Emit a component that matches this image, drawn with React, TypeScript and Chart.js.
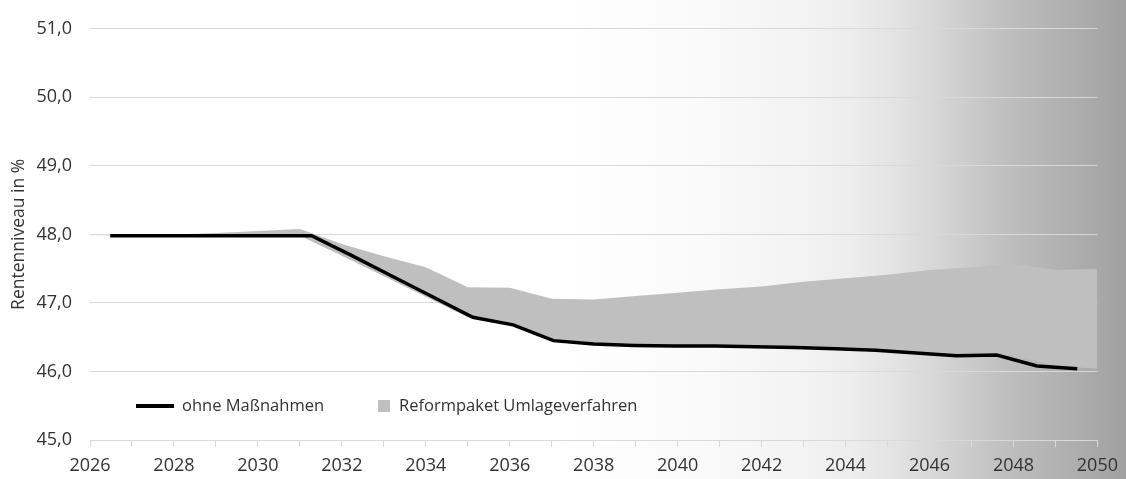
import React, { useEffect, useRef } from 'react';
import { Chart, registerables } from 'chart.js';

Chart.register(...registerables);

const years = [2026, 2027, 2028, 2029, 2030, 2031, 2032, 2033, 2034, 2035, 2036, 2037, 2038, 2039, 2040, 2041, 2042, 2043, 2044, 2045, 2046, 2047, 2048, 2049, 2050];
const ohneMassnahmen = [47.98, 47.98, 47.98, 47.98, 47.98, 47.98, 47.69, 47.39, 47.09, 46.79, 46.68, 46.45, 46.40, 46.38, 46.37, 46.37, 46.36, 46.35, 46.33, 46.31, 46.27, 46.23, 46.24, 46.08, 46.04];
const reformpaket = [47.98, 47.99, 48.0, 48.02, 48.05, 48.08, 47.86, 47.68, 47.52, 47.23, 47.22, 47.06, 47.05, 47.10, 47.15, 47.20, 47.24, 47.31, 47.36, 47.41, 47.48, 47.52, 47.57, 47.48, 47.50];
const yTicks = [45, 46, 47, 48, 49, 50, 51];

const LABEL_LINE = 'ohne Maßnahmen';
const LABEL_AREA = 'Reformpaket Umlageverfahren';
const AXIS_TITLE = 'Rentenniveau in %';

const FONT = "'Open Sans', 'Noto Sans', sans-serif";
const TEXT = '#333333';
const GRID = '#d9d9d9';
const AREA = '#bfbfbf';

const insideLegend = {
  id: 'insideLegend',
  afterDraw(chart: any) {
    const { ctx, chartArea } = chart;
    const y = chartArea.bottom - 34;
    let x = chartArea.left + 46;
    ctx.save();
    ctx.font = `16.5px ${FONT}`;
    ctx.textBaseline = 'middle';
    ctx.textAlign = 'left';
    ctx.strokeStyle = '#000000';
    ctx.lineWidth = 4;
    ctx.lineCap = 'butt';
    ctx.beginPath();
    ctx.moveTo(x, y);
    ctx.lineTo(x + 38, y);
    ctx.stroke();
    x += 46;
    ctx.fillStyle = TEXT;
    ctx.fillText(LABEL_LINE, x, y);
    x += ctx.measureText(LABEL_LINE).width + 54;
    ctx.fillStyle = AREA;
    ctx.fillRect(x, y - 6, 12, 12);
    x += 21;
    ctx.fillStyle = TEXT;
    ctx.fillText(LABEL_AREA, x, y);
    ctx.restore();
  },
};

export default function App() {
  const ref = useRef<HTMLCanvasElement | null>(null);

  useEffect(() => {
    if (!ref.current) return;
    const chart = new Chart(ref.current, {
      type: 'line',
      data: {
        labels: years.map(String),
        datasets: [
          {
            label: LABEL_LINE,
            data: ohneMassnahmen,
            xAxisID: 'xCat',
            borderColor: '#000000',
            borderWidth: 3.5,
            pointRadius: 0,
            fill: false,
            tension: 0,
          },
          {
            label: 'base',
            data: years.map((yr, i) => ({ x: yr, y: ohneMassnahmen[i] })),
            xAxisID: 'x',
            borderWidth: 0,
            borderColor: 'rgba(0,0,0,0)',
            pointRadius: 0,
            fill: false,
          },
          {
            label: LABEL_AREA,
            data: years.map((yr, i) => ({ x: yr, y: reformpaket[i] })),
            xAxisID: 'x',
            borderWidth: 0,
            borderColor: 'rgba(0,0,0,0)',
            backgroundColor: AREA,
            pointRadius: 0,
            fill: '-1',
          },
        ] as any,
      },
      options: {
        animation: false,
        responsive: false,
        maintainAspectRatio: false,
        layout: { padding: { top: 28, right: 28, left: 0, bottom: 0 } },
        plugins: {
          legend: { display: false },
          tooltip: { enabled: false },
          filler: { propagate: false },
        },
        scales: {
          x: {
            type: 'linear',
            position: 'bottom',
            min: years[0],
            max: years[years.length - 1],
            ticks: {
              stepSize: 1,
              autoSkip: false,
              maxRotation: 0,
              minRotation: 0,
              padding: 8,
              color: TEXT,
              font: { family: FONT, size: 18 },
              callback: (v: any) => (Number(v) % 2 === 0 ? String(v) : ''),
            },
            grid: { drawOnChartArea: false, drawTicks: true, tickLength: 7, color: GRID },
            border: { display: true, color: GRID },
            afterFit: (s: any) => {
              s.height = 39;
            },
          },
          xCat: {
            type: 'category',
            display: false,
            offset: true,
            position: 'bottom',
          },
          y: {
            min: yTicks[0],
            max: yTicks[yTicks.length - 1],
            afterBuildTicks: (s: any) => {
              s.ticks = yTicks.map((v) => ({ value: v }));
            },
            ticks: {
              padding: 18,
              color: TEXT,
              font: { family: FONT, size: 18 },
              callback: (v: any) => Number(v).toFixed(1).replace('.', ','),
            },
            grid: { color: GRID, drawTicks: false, lineWidth: 1 },
            border: { display: false },
            title: {
              display: true,
              text: AXIS_TITLE,
              color: TEXT,
              font: { family: FONT, size: 17.5 },
              padding: { top: 9, bottom: 0 },
            },
            afterFit: (s: any) => {
              s.width = 90;
            },
          },
        },
      } as any,
      plugins: [insideLegend],
    });
    return () => chart.destroy();
  }, []);

  return (
    <div
      style={{
        position: 'fixed',
        left: 0,
        top: 0,
        width: 1126,
        height: 479,
        background:
          'linear-gradient(to right, #ffffff 0px, #ffffff 560px, #fafafa 700px, #f3f3f3 800px, #ededed 850px, #e2e2e2 900px, #d2d2d2 950px, #bfbfbf 1005px, #b4b4b4 1050px, #a8a8a8 1098px, #a0a0a0 1126px)',
      }}
    >
      <canvas ref={ref} width={1126} height={479} style={{ display: 'block', width: 1126, height: 479 }} />
    </div>
  );
}
